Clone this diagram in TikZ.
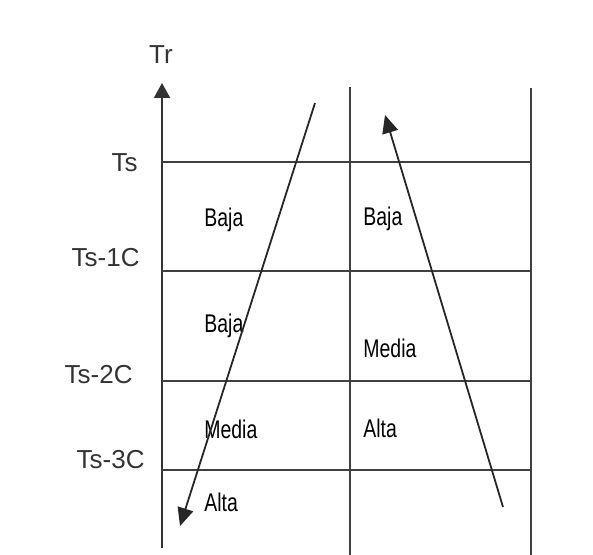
\documentclass[tikz,border=0pt]{standalone}
\usepackage{fontspec}
\setmainfont{Liberation Sans}
\newfontfamily\narrowfont[FakeStretch=0.76]{Liberation Sans}
\usetikzlibrary{arrows.meta}
\tikzset{
  rowline/.style={draw=black!75, line width=1pt},
  axis/.style={draw=black!80, line width=1pt, -{Triangle[length=7.5pt, width=8pt]}},
  trend/.style={draw=black!85, line width=0.9pt, -{Triangle[length=9pt, width=8pt]}},
  lvl/.style={font=\fontsize{13}{15}\selectfont, text=black!80, inner sep=0pt},
  zone/.style={font=\narrowfont\fontsize{12.8}{14}\selectfont, inner sep=0pt, anchor=base west},
}
\begin{document}
\begin{tikzpicture}[x=0.5pt, y=-0.5pt]
  \useasboundingbox (0,0) rectangle (593,555);
  % eje vertical
  \coordinate (o) at (162,548);
  \coordinate (tr) at (162,83);
  \draw[axis] (o) -- (tr);
  \node[lvl] (trl) at (161,55) {Tr};
  % columnas
  \coordinate (m1) at (350,87);
  \coordinate (m2) at (350,555);
  \coordinate (r1) at (531,88);
  \coordinate (r2) at (531,555);
  \draw[rowline] (m1) -- (m2);
  \draw[rowline] (r1) -- (r2);
  % niveles
  \foreach \y [count=\i] in {162,271,381,470} {
    \coordinate (h\i a) at (162,\y);
    \coordinate (h\i b) at (531,\y);
    \draw[rowline] (h\i a) -- (h\i b);
  }
  \node[lvl, anchor=east] (ts)  at (138,163) {Ts};
  \node[lvl, anchor=east] (ts1) at (140,258) {Ts-1C};
  \node[lvl, anchor=east] (ts2) at (133,375) {Ts-2C};
  \node[lvl, anchor=east] (ts3) at (145,460) {Ts-3C};
  % zonas
  \node[zone] (b1) at (204,227) {Baja};
  \node[zone] (b2) at (204,332) {Baja};
  \node[zone] (m3) at (204,438) {Media};
  \node[zone] (a4) at (204,511) {Alta};
  \node[zone] (b5) at (363,226) {Baja};
  \node[zone] (m6) at (363,357) {Media};
  \node[zone] (a7) at (363,437) {Alta};
  % tendencias
  \coordinate (d1) at (315,103);
  \coordinate (d2) at (180,526);
  \coordinate (u1) at (503,507);
  \coordinate (u2) at (385,115);
  \draw[trend] (d1) -- (d2);
  \draw[trend] (u1) -- (u2);
\end{tikzpicture}
\end{document}
